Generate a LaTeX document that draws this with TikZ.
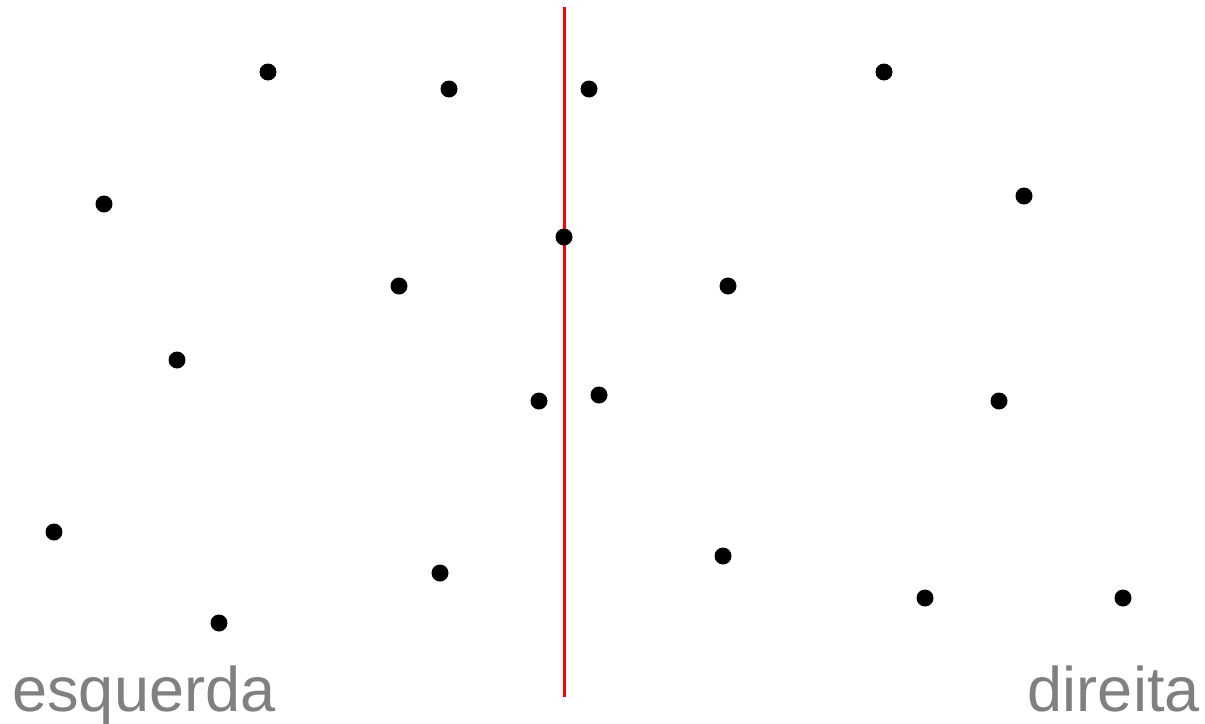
\documentclass[tikz,border=0pt]{standalone}
\usepackage{fontspec}
\setmainfont{Liberation Sans}
\begin{document}
\begin{tikzpicture}[x=0.02cm,y=-0.02cm,
  pt/.style={circle,fill=black,inner sep=0pt,minimum size=0.34cm},
  lbl/.style={text=black!50,inner sep=0pt,font=\fontsize{35.9}{40}\selectfont}]
\useasboundingbox (0,0) rectangle (1205,724);
\coordinate (top) at (564,7);
\coordinate (bot) at (564,697);
\draw[red,line width=0.06cm] (top) -- (bot);
\foreach \n/\x/\y in {1/268/72,2/449/89,3/589/89,4/884/72,5/104/204,6/1024/196,7/564/237,8/399/286,9/728/286,10/177/360,11/539/401,12/599/395,13/999/401,14/54/532,15/723/556,16/440/573,17/925/598,18/1123/598,19/219/623}
  \node[pt] (d\n) at (\x,\y) {};
\node[lbl,anchor=base west] (esq) at (12,711) {esquerda};
\node[lbl,anchor=base east] (dir) at (1200,711) {direita};
\end{tikzpicture}
\end{document}
